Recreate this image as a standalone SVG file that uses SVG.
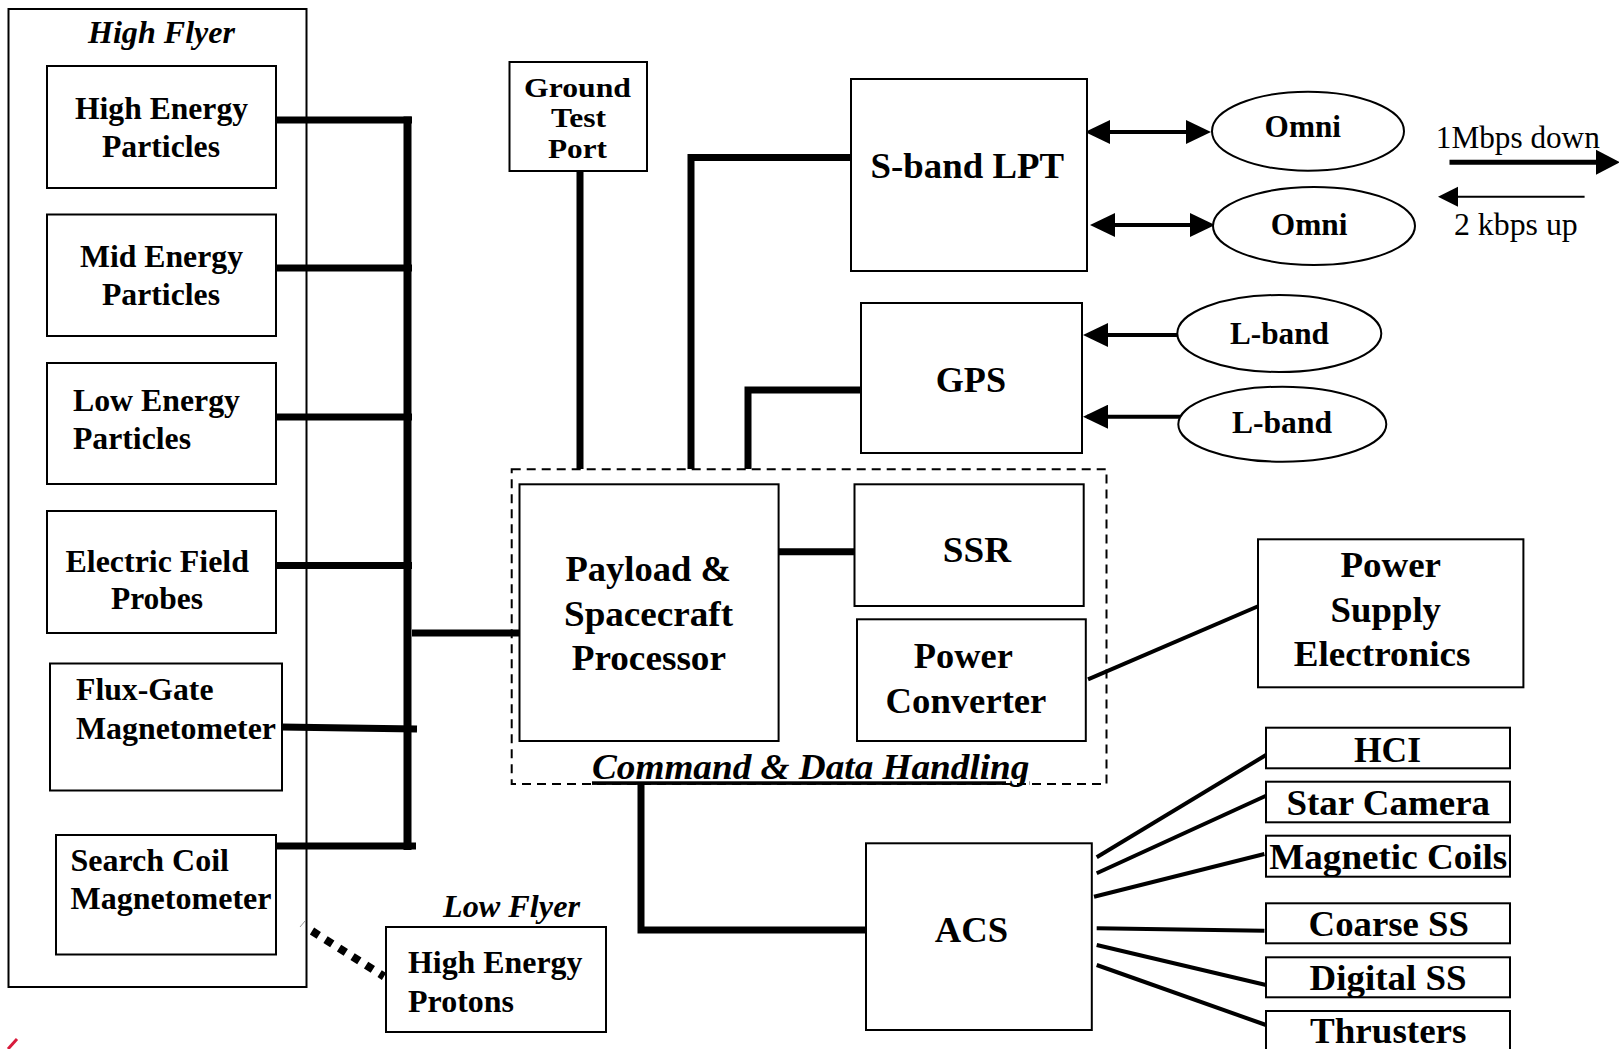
<svg xmlns="http://www.w3.org/2000/svg" width="1619" height="1049" viewBox="0 0 1619 1049">
<style>
text{font-family:"Liberation Serif","Times New Roman",serif;font-weight:bold;fill:#000}
.s27{font-size:27px}
.s31{font-size:31px}
.s36{font-size:36px}
.it{font-style:italic}
.reg{font-weight:normal}
.box{fill:#fff;stroke:#000;stroke-width:2}
.ell{fill:#fff;stroke:#000;stroke-width:2}
.dash{fill:none;stroke:#000;stroke-width:2;stroke-dasharray:9 6}
.thick{fill:none;stroke:#000;stroke-width:7}
.bus{fill:none;stroke:#000;stroke-width:8}
.thin{fill:none;stroke:#000;stroke-width:4}
.arr{fill:none;stroke:#000;stroke-width:4}
</style>
<defs>
<marker id="ah" markerUnits="userSpaceOnUse" viewBox="0 0 25 24" refX="21" refY="12" markerWidth="25" markerHeight="24" orient="auto-start-reverse">
<path d="M0,0 L25,12 L0,24 z" fill="#000"/>
</marker>
</defs>
<rect width="1619" height="1049" fill="#fff"/>

<g id="high-flyer">
<rect class="box" x="8.5" y="9" width="298" height="978"/>
<text class="s31 it" x="88" y="43" textLength="147" lengthAdjust="spacingAndGlyphs">High Flyer</text>
</g>

<g id="connectors">
<path class="thick" d="M276,120 H412"/>
<path class="thick" d="M276,268 H412"/>
<path class="thick" d="M276,417 H412"/>
<path class="thick" d="M276,565.5 H412"/>
<path class="thick" d="M281,727 L417,729"/>
<path class="thick" d="M273,846 H416"/>
<path class="bus" d="M407.5,116.5 V850"/>
<path class="thick" d="M412,633 H519.5"/>
<path class="thick" d="M580,171 V469"/>
<path class="thick" d="M691,469 V157.5 H851"/>
<path class="thick" d="M748,469 V390 H864"/>
<path class="thick" d="M778.6,551.7 H854.5"/>
<path class="thick" d="M641,784 V930 H866"/>
<path class="thin" d="M1088,679.3 L1261,605"/>
<path class="thin" d="M1096.7,857.3 L1266,755"/>
<path class="thin" d="M1096.7,873.3 L1266,795.7"/>
<path class="thin" d="M1094,896.7 L1264.4,854"/>
<path class="thin" d="M1096.7,928.3 L1264.4,930.7"/>
<path class="thin" d="M1096.7,945 L1266,985"/>
<path class="thin" d="M1096.7,965 L1266,1025"/>
<path d="M312,931 L384,976.5" fill="none" stroke="#000" stroke-width="8" stroke-dasharray="8 8"/>
<path d="M300,927 L305,921" fill="none" stroke="#999" stroke-width="1"/>
<path class="arr" d="M1089,132 H1207" marker-start="url(#ah)" marker-end="url(#ah)"/>
<path class="arr" d="M1094,225 H1211" marker-start="url(#ah)" marker-end="url(#ah)"/>
<path class="arr" d="M1180,335 H1087" marker-end="url(#ah)"/>
<path class="arr" d="M1183,416.7 H1087" marker-end="url(#ah)"/>
<path d="M1449.5,162.3 H1598" fill="none" stroke="#000" stroke-width="5"/>
<path d="M1596,149.8 L1620,162.3 L1596,174.8 z" fill="#000"/>
<path d="M1584.6,196.7 H1456" fill="none" stroke="#000" stroke-width="2"/>
<path d="M1458,186.7 L1438,196.7 L1458,206.7 z" fill="#000"/>
<path d="M8,1049 L17,1039" fill="none" stroke="#d81b3c" stroke-width="3"/>
</g>

<g id="high-energy-particles">
<rect class="box" x="47" y="66" width="229" height="122"/>
<text class="s31" x="75" y="119" textLength="173" lengthAdjust="spacingAndGlyphs">High Energy</text>
<text class="s31" x="102" y="157" textLength="118" lengthAdjust="spacingAndGlyphs">Particles</text>
</g>
<g id="mid-energy-particles">
<rect class="box" x="47" y="214.5" width="229" height="121.5"/>
<text class="s31" x="80" y="267" textLength="163" lengthAdjust="spacingAndGlyphs">Mid Energy</text>
<text class="s31" x="102" y="305" textLength="118" lengthAdjust="spacingAndGlyphs">Particles</text>
</g>
<g id="low-energy-particles">
<rect class="box" x="47" y="363" width="229" height="121"/>
<text class="s31" x="73" y="411" textLength="167" lengthAdjust="spacingAndGlyphs">Low Energy</text>
<text class="s31" x="73" y="449" textLength="118" lengthAdjust="spacingAndGlyphs">Particles</text>
</g>
<g id="electric-field-probes">
<rect class="box" x="47" y="511" width="229" height="122"/>
<text class="s31" x="65.5" y="572" textLength="183.5" lengthAdjust="spacingAndGlyphs">Electric Field</text>
<text class="s31" x="111" y="609" textLength="92" lengthAdjust="spacingAndGlyphs">Probes</text>
</g>
<g id="flux-gate-magnetometer">
<rect class="box" x="50" y="663.5" width="232" height="127"/>
<text class="s31" x="76" y="700" textLength="137.5" lengthAdjust="spacingAndGlyphs">Flux-Gate</text>
<text class="s31" x="76" y="739" textLength="200" lengthAdjust="spacingAndGlyphs">Magnetometer</text>
</g>
<g id="search-coil-magnetometer">
<rect class="box" x="56" y="835" width="220" height="119.5"/>
<text class="s31" x="70.5" y="870.5" textLength="158.5" lengthAdjust="spacingAndGlyphs">Search Coil</text>
<text class="s31" x="70.5" y="909" textLength="201" lengthAdjust="spacingAndGlyphs">Magnetometer</text>
</g>

<g id="low-flyer">
<text class="s31 it" x="443" y="917" textLength="137" lengthAdjust="spacingAndGlyphs">Low Flyer</text>
</g>
<g id="high-energy-protons">
<rect class="box" x="386" y="927" width="220" height="105"/>
<text class="s31" x="408" y="973" textLength="174.5" lengthAdjust="spacingAndGlyphs">High Energy</text>
<text class="s31" x="408" y="1012" textLength="106" lengthAdjust="spacingAndGlyphs">Protons</text>
</g>

<g id="ground-test-port">
<rect class="box" x="509.5" y="62" width="137.5" height="109"/>
<text class="s27" x="524" y="97" textLength="107" lengthAdjust="spacingAndGlyphs">Ground</text>
<text class="s27" x="551" y="127" textLength="55" lengthAdjust="spacingAndGlyphs">Test</text>
<text class="s27" x="548" y="157.5" textLength="59" lengthAdjust="spacingAndGlyphs">Port</text>
</g>

<g id="s-band-lpt">
<rect class="box" x="851" y="79" width="236" height="192"/>
<text class="s36" x="870.6" y="178.3" textLength="193.4" lengthAdjust="spacingAndGlyphs">S-band LPT</text>
</g>
<g id="gps">
<rect class="box" x="861" y="303" width="221" height="150"/>
<text class="s36" x="935.7" y="391.7" textLength="70.3" lengthAdjust="spacingAndGlyphs">GPS</text>
</g>

<g id="omni-1">
<ellipse class="ell" cx="1308" cy="131.2" rx="96" ry="39.5"/>
<text class="s31" x="1264.6" y="137.3" textLength="76.4" lengthAdjust="spacingAndGlyphs">Omni</text>
</g>
<g id="omni-2">
<ellipse class="ell" cx="1314" cy="226" rx="101" ry="39"/>
<text class="s31" x="1270.8" y="235" textLength="76.7" lengthAdjust="spacingAndGlyphs">Omni</text>
</g>
<g id="l-band-1">
<ellipse class="ell" cx="1279.3" cy="333.5" rx="102" ry="38.5"/>
<text class="s31" x="1230" y="344" textLength="99" lengthAdjust="spacingAndGlyphs">L-band</text>
</g>
<g id="l-band-2">
<ellipse class="ell" cx="1282.3" cy="424.2" rx="104" ry="37.5"/>
<text class="s31" x="1232" y="432.7" textLength="100" lengthAdjust="spacingAndGlyphs">L-band</text>
</g>

<g id="link-rates">
<text class="s31 reg" x="1435.8" y="148.3" textLength="164" lengthAdjust="spacingAndGlyphs">1Mbps down</text>
<text class="s31 reg" x="1454" y="235" textLength="123.8" lengthAdjust="spacingAndGlyphs">2 kbps up</text>
</g>

<g id="command-data-handling">
<rect class="dash" x="511.7" y="469.3" width="594.8" height="314.7"/>
<text class="s36 it" x="592" y="779.3" textLength="437.4" lengthAdjust="spacingAndGlyphs" text-decoration="underline">Command &amp; Data Handling</text>
</g>
<g id="processor">
<rect class="box" x="519.5" y="484.3" width="259.1" height="256.7"/>
<text class="s36" x="565.5" y="580.7" textLength="165.5" lengthAdjust="spacingAndGlyphs">Payload &amp;</text>
<text class="s36" x="564" y="625.7" textLength="169" lengthAdjust="spacingAndGlyphs">Spacecraft</text>
<text class="s36" x="571.7" y="670" textLength="154.3" lengthAdjust="spacingAndGlyphs">Processor</text>
</g>
<g id="ssr">
<rect class="box" x="854.5" y="484.3" width="229.2" height="121.7"/>
<text class="s36" x="942.8" y="561.7" textLength="68.2" lengthAdjust="spacingAndGlyphs">SSR</text>
</g>
<g id="power-converter">
<rect class="box" x="857" y="619.3" width="228.8" height="121.7"/>
<text class="s36" x="913.8" y="667.7" textLength="99" lengthAdjust="spacingAndGlyphs">Power</text>
<text class="s36" x="885.6" y="713.3" textLength="160.8" lengthAdjust="spacingAndGlyphs">Converter</text>
</g>

<g id="power-supply-electronics">
<rect class="box" x="1258" y="539.3" width="265.4" height="148"/>
<text class="s36" x="1340.4" y="577.3" textLength="100.6" lengthAdjust="spacingAndGlyphs">Power</text>
<text class="s36" x="1330.6" y="621.7" textLength="110.4" lengthAdjust="spacingAndGlyphs">Supply</text>
<text class="s36" x="1293.8" y="666" textLength="176.6" lengthAdjust="spacingAndGlyphs">Electronics</text>
</g>

<g id="acs">
<rect class="box" x="866" y="843.3" width="225.8" height="186.7"/>
<text class="s36" x="934.8" y="941.7" textLength="73.2" lengthAdjust="spacingAndGlyphs">ACS</text>
</g>
<g id="hci">
<rect class="box" x="1266" y="727.7" width="244" height="40.6"/>
<text class="s36" x="1354" y="761.7" textLength="67" lengthAdjust="spacingAndGlyphs">HCI</text>
</g>
<g id="star-camera">
<rect class="box" x="1266" y="781.7" width="244" height="40.6"/>
<text class="s36" x="1286.5" y="815" textLength="203.5" lengthAdjust="spacingAndGlyphs">Star Camera</text>
</g>
<g id="magnetic-coils">
<rect class="box" x="1266" y="835.7" width="244" height="41"/>
<text class="s36" x="1269.3" y="869.3" textLength="238" lengthAdjust="spacingAndGlyphs">Magnetic Coils</text>
</g>
<g id="coarse-ss">
<rect class="box" x="1266" y="903.3" width="244" height="40"/>
<text class="s36" x="1308.6" y="936" textLength="160.4" lengthAdjust="spacingAndGlyphs">Coarse SS</text>
</g>
<g id="digital-ss">
<rect class="box" x="1266" y="957.3" width="244" height="40"/>
<text class="s36" x="1309.5" y="990" textLength="157" lengthAdjust="spacingAndGlyphs">Digital SS</text>
</g>
<g id="thrusters">
<rect class="box" x="1266" y="1011" width="244" height="50"/>
<text class="s36" x="1310" y="1043" textLength="156.5" lengthAdjust="spacingAndGlyphs">Thrusters</text>
</g>
</svg>
